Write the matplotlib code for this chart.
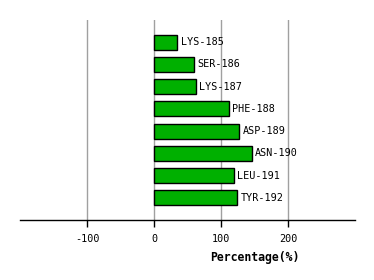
import matplotlib
matplotlib.use("Agg")
import matplotlib.pyplot as plt

# data
residues = ["LYS-185", "SER-186", "LYS-187", "PHE-188",
            "ASP-189", "ASN-190", "LEU-191", "TYR-192"]
percent = [35, 59, 62, 112, 127, 146, 119, 124]
xticks = [-100, 0, 100, 200]

BAR_GREEN = "#00b000"
GRID_GRAY = "#a0a0a0"
MONO = "DejaVu Sans Mono"

fig = plt.figure(figsize=(3.74, 2.80), dpi=100)
# axes box in pixels: x 20..355, y 20..220 (from top)
ax = fig.add_axes([20 / 374, 60 / 280, 335 / 374, 200 / 280])

pos = list(range(len(residues)))
ax.barh(pos, percent, height=0.67, color=BAR_GREEN,
        edgecolor="black", linewidth=1.0, zorder=3)

for y, v, name in zip(pos, percent, residues):
    ax.text(v + 5, y, name, va="center", ha="left",
            fontsize=7.3, family=MONO, zorder=4)

ax.set_xlim(-200, 300)
ax.set_ylim(8, -1)

ax.set_xticks(xticks)
ax.set_xticklabels([str(t) for t in xticks], family=MONO, fontsize=7.3)
ax.set_yticks([])
for t in xticks:
    ax.axvline(t, color=GRID_GRAY, linewidth=1.0, zorder=1)

for side in ["top", "left", "right"]:
    ax.spines[side].set_visible(False)
ax.spines["bottom"].set_linewidth(1.0)
ax.tick_params(axis="x", length=5, width=1.0, color="black", pad=5)

ax.set_xlabel("Percentage(%)", family=MONO, fontsize=8.3, fontweight="bold")
ax.xaxis.set_label_coords(0.70, -0.155)

fig.savefig("out.png", dpi=100)
